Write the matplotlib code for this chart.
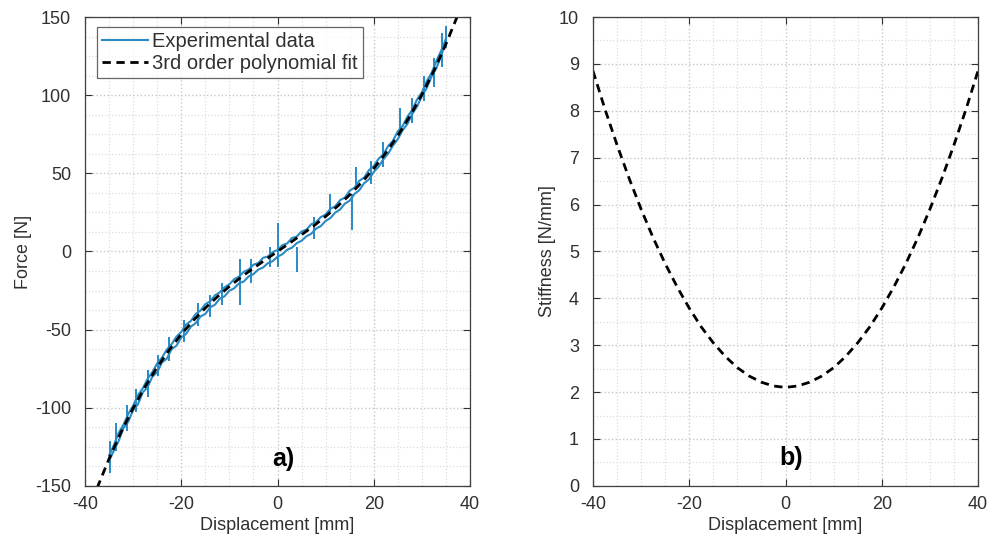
import matplotlib.pyplot as plt
from matplotlib.ticker import MultipleLocator

plt.rcParams['font.family'] = ['Liberation Sans', 'DejaVu Sans']
plt.rcParams['axes.unicode_minus'] = False

# Fit curve read off panel a)
fit_x = [-37.5, -35, -32.5, -30, -27.5, -25, -22.5, -20, -17.5, -15, -12.5, -10, -7.5, -5, -2.5, 0,
         2.5, 5, 7.5, 10, 12.5, 15, 17.5, 20, 22.5, 25, 27.5, 30, 32.5, 35, 37.5]
fit_f = [-151.5, -132.7, -115.6, -100.3, -86.5, -74.1, -63.0, -53.0, -44.2, -36.2, -29.0, -22.4, -16.3, -10.7, -5.3, 0.0,
         5.3, 10.7, 16.3, 22.4, 29.0, 36.2, 44.2, 53.0, 63.0, 74.1, 86.5, 100.3, 115.6, 132.7, 151.5]

# Experimental data: loading branch (x rising) then unloading branch (x falling)
load_x = list(range(-35, 36))
load_f = [-134.0, -127.5, -121.2, -113.0, -108.9, -101.5, -97.8, -90.2, -86.9, -80.1,
          -77.4, -71.0, -68.6, -62.5, -60.3, -55.0, -52.8, -48.1, -45.9, -41.6,
          -40.0, -35.8, -34.1, -30.2, -28.7, -25.1, -23.6, -20.4, -19.2, -16.0,
          -14.5, -11.6, -10.3, -7.5, -6.2, -3.4, -1.8, 1.1, 2.4, 5.3,
          6.8, 9.7, 11.3, 14.6, 16.2, 19.5, 21.4, 24.9, 26.8, 30.6,
          32.5, 36.8, 39.2, 43.7, 46.1, 50.9, 54.2, 59.0, 62.6, 67.8,
          71.9, 77.5, 81.6, 88.0, 92.7, 99.4, 104.5, 111.8, 117.2, 125.0, 134.5]
unload_x = list(range(35, -36, -1))
unload_f = [136.0, 128.4, 121.7, 114.1, 108.9, 101.8, 97.2, 90.6, 86.3, 80.2,
            76.9, 70.8, 67.5, 62.1, 59.3, 54.6, 52.0, 47.3, 45.2, 40.8,
            38.9, 34.5, 32.8, 28.9, 27.3, 23.6, 22.0, 18.7, 17.4, 13.9,
            12.8, 9.5, 8.6, 5.1, 4.0, 0.9, -0.4, -3.2, -4.1, -7.4,
            -8.5, -11.6, -13.0, -16.1, -17.8, -21.0, -22.9, -26.2, -28.1, -31.9,
            -33.7, -37.8, -40.0, -44.5, -46.8, -51.6, -54.5, -59.4, -62.8, -67.9,
            -71.6, -77.2, -81.5, -87.6, -92.0, -98.7, -103.9, -110.8, -116.0, -123.9, -130.5]

# noise spikes in the measurement (x, low, high)
spike_x = [-34.8, -33.5, -31.2, -29.5, -27.0, -24.8, -22.6, -19.5, -16.5, -14.0, -11.6, -7.8, -5.5, -1.6,
           0.1, 4.0, 7.5, 10.9, 15.4, 16.4, 19.5, 22.0, 25.5, 28.0, 30.5, 32.5, 34.2, 35.1]
spike_lo = [-142, -128, -115, -103, -93, -80, -70, -58, -48, -42, -34, -34, -20, -10,
            -10, -13, 8, 25, 14, 41, 43, 54, 76, 82, 96, 105, 118, 130]
spike_hi = [-121, -110, -98, -88, -76, -66, -55, -44, -33, -28, -20, -5, -5, 3,
            18, 3, 22, 37, 37, 54, 58, 70, 92, 98, 112, 124, 140, 144]

# Stiffness curve read off panel b)
stiff_x = [-40, -37.5, -35, -32.5, -30, -27.5, -25, -22.5, -20, -17.5, -15, -12.5, -10, -7.5, -5, -2.5, 0,
           2.5, 5, 7.5, 10, 12.5, 15, 17.5, 20, 22.5, 25, 27.5, 30, 32.5, 35, 37.5, 40]
stiff_k = [8.85, 8.03, 7.27, 6.56, 5.90, 5.29, 4.74, 4.24, 3.79, 3.39, 3.05, 2.76, 2.52, 2.34, 2.21, 2.13, 2.10,
           2.13, 2.21, 2.34, 2.52, 2.76, 3.05, 3.39, 3.79, 4.24, 4.74, 5.29, 5.90, 6.56, 7.27, 8.03, 8.85]

blue = '#2a8ac4'
fs = 13
txt = '#303030'


def style_axes(ax, xminor, yminor):
    ax.xaxis.set_minor_locator(MultipleLocator(xminor))
    ax.yaxis.set_minor_locator(MultipleLocator(yminor))
    ax.grid(True, which='major', color='#c8c8c8', linestyle=':', linewidth=1.0)
    ax.grid(True, which='minor', color='#dcdcdc', linestyle=':', linewidth=0.9)
    ax.tick_params(which='major', direction='in', top=True, right=True, length=5,
                   labelsize=fs, colors=txt)
    ax.tick_params(axis='x', which='major', pad=7)
    ax.tick_params(axis='y', which='major', pad=10)
    ax.tick_params(which='minor', length=0)
    for s in ax.spines.values():
        s.set_color('#404040')
        s.set_linewidth(0.9)
    ax.set_axisbelow(True)


fig = plt.figure(figsize=(10, 5.49), dpi=100)
ax1 = fig.add_axes([0.085, 0.115, 0.385, 0.854])
ax2 = fig.add_axes([0.593, 0.115, 0.385, 0.854])

# panel a)
ax1.plot(load_x + unload_x, load_f + unload_f, color=blue, linewidth=1.5, label='Experimental data')
ax1.vlines(spike_x, spike_lo, spike_hi, color=blue, linewidth=1.4)
ax1.plot(fit_x, fit_f, color='black', linestyle=(0, (3, 2)), linewidth=2.0,
         label='3rd order polynomial fit')
ax1.set_xlim(-40, 40)
ax1.set_ylim(-150, 150)
ax1.set_xticks([-40, -20, 0, 20, 40])
ax1.set_yticks([-150, -100, -50, 0, 50, 100, 150])
style_axes(ax1, 5, 12.5)
ax1.set_xlabel('Displacement [mm]', fontsize=fs, color=txt, labelpad=3)
ax1.set_ylabel('Force [N]', fontsize=fs, color=txt, labelpad=2)
leg = ax1.legend(loc='upper left', bbox_to_anchor=(0.03, 0.978), fontsize=14.5, frameon=True,
                 fancybox=False, edgecolor='#404040', handlelength=2.3, handletextpad=0.2,
                 borderpad=0.25, labelspacing=0.15, borderaxespad=0)
leg.get_frame().set_linewidth(0.9)
for t in leg.get_texts():
    t.set_color(txt)
ax1.text(1.3, -133, 'a)', fontsize=18, fontweight='bold', ha='center', va='center')

# panel b)
ax2.plot(stiff_x, stiff_k, color='black', linestyle=(0, (3, 2)), linewidth=2.0)
ax2.set_xlim(-40, 40)
ax2.set_ylim(0, 10)
ax2.set_xticks([-40, -20, 0, 20, 40])
ax2.set_yticks(range(0, 11))
style_axes(ax2, 5, 0.5)
ax2.set_xlabel('Displacement [mm]', fontsize=fs, color=txt, labelpad=3)
ax2.set_ylabel('Stiffness [N/mm]', fontsize=fs, color=txt, labelpad=2)
ax2.text(1.1, 0.6, 'b)', fontsize=18, fontweight='bold', ha='center', va='center')

fig.savefig('out.png', dpi=100)
